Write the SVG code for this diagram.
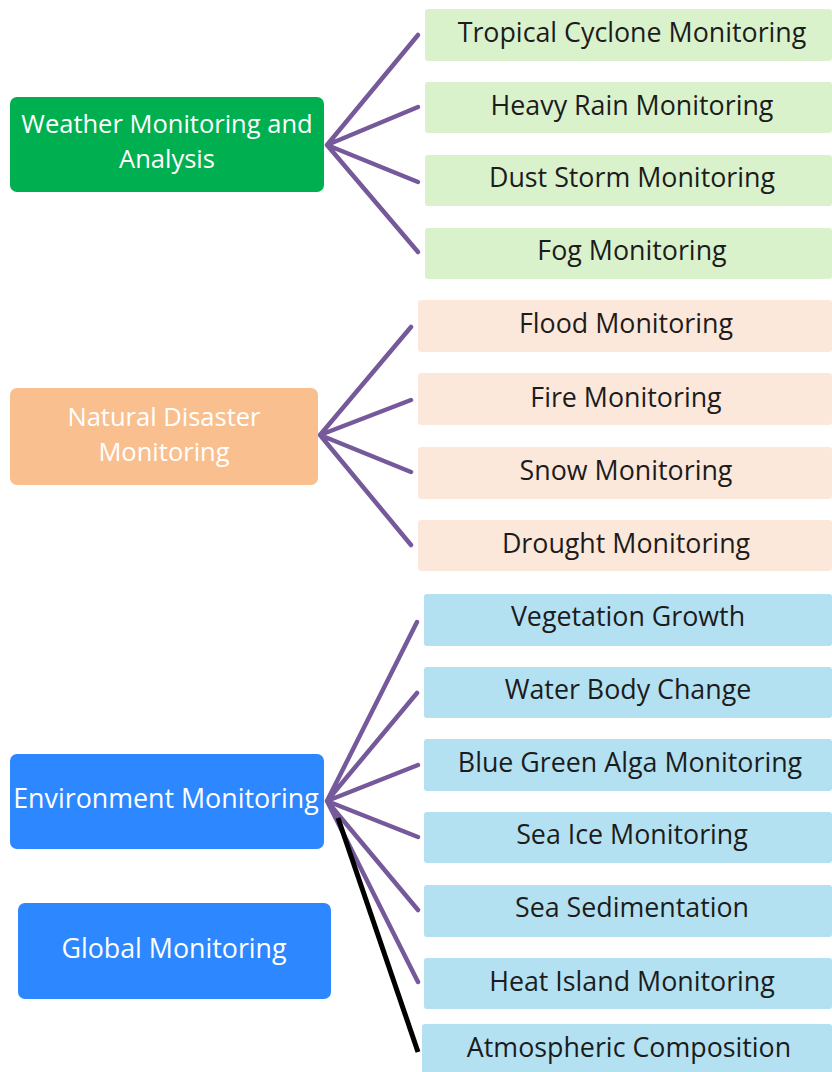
<svg xmlns="http://www.w3.org/2000/svg" width="832" height="1072" viewBox="0 0 832 1072">
<style>
text{font-family:"Open Sans","Liberation Sans",sans-serif;font-size:26.8px;text-anchor:middle}
.two{font-size:25.5px}
.dark{fill:#1c1c1c}
.light{fill:#ffffff}
.conn{stroke:#76599A;stroke-width:4.5;fill:none;stroke-linecap:round}
.blk{stroke:#000;stroke-width:5;fill:none}
.gl{fill:#DAF2CC}
.ol{fill:#FCE8DA}
.bl{fill:#B4E1F1}
</style>
<rect width="832" height="1072" fill="#ffffff"/>
<g id="connectors">
<path class="conn" d="M327 145L418 35M327 145L418 107M327 145L418 182M327 145L418 252"/>
<path class="conn" d="M320 435L411 327M320 435L411 400M320 435L411 472M320 435L411 545"/>
<path class="conn" d="M327 801L417 622M327 801L417 693M327 801L418 765M327 801L418 837M327 801L418 910M327 801L418 982"/>
<path class="blk" d="M338 818L418 1052"/>
</g>
<g id="weather"><rect x="10" y="97" width="314" height="95" rx="7" fill="#00B050"/><text class="light two"><tspan x="167" y="133">Weather Monitoring and</tspan><tspan x="167" y="168">Analysis</tspan></text></g>
<g id="natural"><rect x="10" y="388" width="308" height="97" rx="7" fill="#F9BF8F"/><text class="light two"><tspan x="164" y="426">Natural Disaster</tspan><tspan x="164" y="461">Monitoring</tspan></text></g>
<g id="environment"><rect x="10" y="754" width="314" height="95" rx="7" fill="#2D88FF"/><text class="light" x="166" y="808">Environment Monitoring</text></g>
<g id="global"><rect x="18" y="903" width="313" height="96" rx="7" fill="#2D88FF"/><text class="light" x="174" y="958">Global Monitoring</text></g>
<g id="tropical"><rect class="gl" x="425" y="9" width="407" height="52" rx="3"/><text class="dark" x="632" y="42">Tropical Cyclone Monitoring</text></g>
<g id="heavyrain"><rect class="gl" x="425" y="82" width="407" height="51" rx="3"/><text class="dark" x="632" y="115">Heavy Rain Monitoring</text></g>
<g id="duststorm"><rect class="gl" x="425" y="155" width="407" height="51" rx="3"/><text class="dark" x="632" y="187">Dust Storm Monitoring</text></g>
<g id="fog"><rect class="gl" x="425" y="228" width="407" height="51" rx="3"/><text class="dark" x="632" y="260">Fog Monitoring</text></g>
<g id="flood"><rect class="ol" x="418" y="300" width="414" height="52" rx="3"/><text class="dark" x="626" y="333">Flood Monitoring</text></g>
<g id="fire"><rect class="ol" x="418" y="373" width="414" height="52" rx="3"/><text class="dark" x="626" y="407">Fire Monitoring</text></g>
<g id="snow"><rect class="ol" x="418" y="447" width="414" height="52" rx="3"/><text class="dark" x="626" y="480">Snow Monitoring</text></g>
<g id="drought"><rect class="ol" x="418" y="520" width="414" height="51" rx="3"/><text class="dark" x="626" y="553">Drought Monitoring</text></g>
<g id="vegetation"><rect class="bl" x="424" y="594" width="408" height="52" rx="3"/><text class="dark" x="628" y="626">Vegetation Growth</text></g>
<g id="waterbody"><rect class="bl" x="424" y="667" width="408" height="51" rx="3"/><text class="dark" x="628" y="699">Water Body Change</text></g>
<g id="bluegreen"><rect class="bl" x="424" y="739" width="408" height="52" rx="3"/><text class="dark" x="630" y="772">Blue Green Alga Monitoring</text></g>
<g id="seaice"><rect class="bl" x="424" y="812" width="408" height="51" rx="3"/><text class="dark" x="632" y="844">Sea Ice Monitoring</text></g>
<g id="seased"><rect class="bl" x="424" y="885" width="408" height="52" rx="3"/><text class="dark" x="632" y="917">Sea Sedimentation</text></g>
<g id="heatisland"><rect class="bl" x="424" y="958" width="408" height="51" rx="3"/><text class="dark" x="632" y="991">Heat Island Monitoring</text></g>
<g id="atmospheric"><rect class="bl" x="422" y="1024" width="410" height="52" rx="3"/><text class="dark" x="629" y="1057">Atmospheric Composition</text></g>
</svg>
